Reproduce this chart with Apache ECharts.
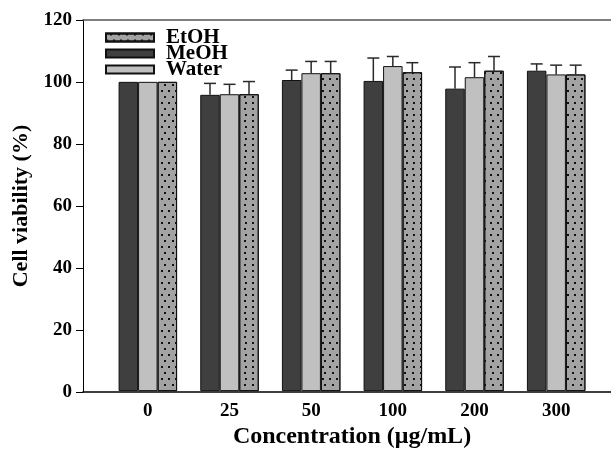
<!DOCTYPE html>
<html>
<head>
<meta charset="utf-8">
<script src="https://cdn.jsdelivr.net/npm/echarts@6/dist/echarts.min.js"></script>
<style>html,body{margin:0;padding:0;background:#fff}#c{width:611px;height:454px}</style>
</head>
<body>
<div id="c"></div>
<script>
const categories = ['0', '25', '50', '100', '200', '300'];
const meoh = [100, 95.8, 100.6, 100.3, 97.8, 103.6];
const meohErr = [0, 3.7, 3.2, 7.4, 7.0, 2.2];
const water = [100, 96.0, 102.8, 105.1, 101.5, 102.4];
const waterErr = [0, 3.2, 3.8, 3.1, 4.7, 3.0];
const etoh = [100, 96.0, 102.8, 103.1, 103.6, 102.4];
const etohErr = [0, 4.1, 3.8, 3.1, 4.6, 3.0];
const yTicks = [0, 20, 40, 60, 80, 100, 120];

const FONT = '"Liberation Serif", "Times New Roman", serif';
const BAR_W = 19.5;

const chart = echarts.init(document.getElementById('c'), null, {renderer: 'canvas'});

function errSeries(name, vals, errs, idx) {
  return {
    type: 'custom',
    name: name + ' err',
    xAxisIndex: 1, yAxisIndex: 1,
    z: 5,
    silent: true,
    data: vals.map((v, i) => [i, v, errs[i]]),
    renderItem: function (params, api) {
      const i = api.value(0), v = api.value(1), e = api.value(2);
      if (!e) return null;
      const p0 = api.coord([i, v]);
      const p1 = api.coord([i, v + e]);
      const x = p0[0] + (idx - 1) * BAR_W;
      const st = {stroke: '#2a2a2a', lineWidth: 1.5};
      return {
        type: 'group',
        children: [
          {type: 'line', shape: {x1: x, y1: p0[1], x2: x, y2: p1[1]}, style: st},
          {type: 'line', shape: {x1: x - 6, y1: p1[1], x2: x + 6, y2: p1[1]}, style: st}
        ]
      };
    }
  };
}

const option = {
  animation: false,
  backgroundColor: '#fff',
  textStyle: {fontFamily: FONT},
  grid: [
    {left: 83, right: -10, top: 20, bottom: 62, containLabel: false},
    {left: 107, right: 14, top: 20, bottom: 62, containLabel: false}
  ],
  legend: {
    orient: 'vertical',
    left: 105, top: 27,
    icon: 'rect',
    itemWidth: 48, itemHeight: 8, itemGap: -5,
    padding: 0,
    data: ['EtOH', 'MeOH', 'Water'],
    textStyle: {fontFamily: FONT, fontWeight: 'bold', fontSize: 21, color: '#000', padding: [0, 0, 0, 7]}
  },
  xAxis: [
    {
      type: 'value', gridIndex: 0, min: 0, max: 1, position: 'bottom',
      axisLine: {show: true, lineStyle: {color: '#000', width: 1.5}},
      axisTick: {show: false}, axisLabel: {show: false}, splitLine: {show: false}
    },
    {
      type: 'category', gridIndex: 1, data: categories,
      axisLine: {show: false}, axisTick: {show: false},
      axisLabel: {fontFamily: FONT, fontWeight: 'bold', fontSize: 19, color: '#000', margin: 10},
      name: 'Concentration (\u03bcg/mL)', nameLocation: 'middle', nameGap: 32,
      nameTextStyle: {fontFamily: FONT, fontWeight: 'bold', fontSize: 24, color: '#000'}
    },
    {
      type: 'value', gridIndex: 0, min: 0, max: 1, position: 'top',
      axisLine: {show: true, lineStyle: {color: '#555', width: 1.5}},
      axisTick: {show: false}, axisLabel: {show: false}, splitLine: {show: false}
    }
  ],
  yAxis: [
    {
      type: 'value', gridIndex: 0, min: yTicks[0], max: yTicks[yTicks.length - 1], interval: 20,
      axisLine: {show: true, lineStyle: {color: '#000', width: 1}},
      axisTick: {show: true, inside: false, length: 7, lineStyle: {color: '#000'}},
      axisLabel: {fontFamily: FONT, fontWeight: 'bold', fontSize: 19, color: '#000', margin: 11},
      splitLine: {show: false},
      name: 'Cell viability (%)', nameLocation: 'middle', nameGap: 49,
      nameTextStyle: {fontFamily: FONT, fontWeight: 'bold', fontSize: 22, color: '#000'}
    },
    {
      type: 'value', gridIndex: 1, min: 0, max: 120, show: false
    }
  ],
  series: [
    {
      name: 'MeOH', type: 'bar', xAxisIndex: 1, yAxisIndex: 1,
      barWidth: BAR_W, barGap: '0%',
      data: meoh,
      itemStyle: {color: '#3f3f3f', borderColor: '#111', borderWidth: 1}
    },
    {
      name: 'Water', type: 'bar', xAxisIndex: 1, yAxisIndex: 1,
      barWidth: BAR_W, barGap: '0%',
      data: water,
      itemStyle: {color: '#c0c0c0', borderColor: '#111', borderWidth: 1}
    },
    {
      name: 'EtOH', type: 'bar', xAxisIndex: 1, yAxisIndex: 1,
      barWidth: BAR_W, barGap: '0%',
      data: etoh,
      itemStyle: {
        color: '#a3a3a3', borderColor: '#111', borderWidth: 1,
        decal: {
          symbol: 'rect', symbolSize: 1,
          color: '#111',
          dashArrayX: [[2, 5], [0, 3.5, 2, 1.5]],
          dashArrayY: [2, 4],
          rotation: 0
        }
      }
    },
    errSeries('MeOH', meoh, meohErr, 0),
    errSeries('Water', water, waterErr, 1),
    errSeries('EtOH', etoh, etohErr, 2)
  ]
};
chart.setOption(option);
</script>
</body>
</html>
